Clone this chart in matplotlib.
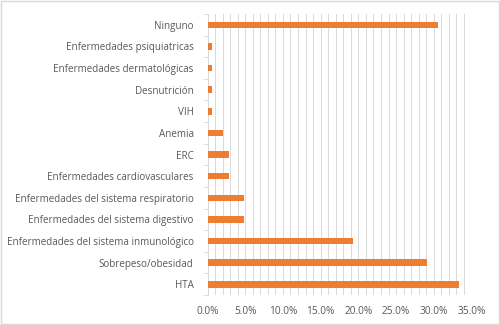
import matplotlib
matplotlib.use("Agg")
import matplotlib.pyplot as plt
from matplotlib.ticker import MultipleLocator, FuncFormatter, FixedLocator
import numpy as np

categories = ["HTA", "Sobrepeso/obesidad", "Enfermedades del sistema inmunológico",
              "Enfermedades del sistema digestivo", "Enfermedades del sistema respiratorio",
              "Enfermedades cardiovasculares", "ERC", "Anemia", "VIH", "Desnutrición",
              "Enfermedades dermatológicas", "Enfermedades psiquiatricas", "Ninguno"]
values = [33.3, 29.1, 19.3, 4.8, 4.9, 2.8, 2.8, 2.1, 0.6, 0.6, 0.6, 0.6, 30.5]

fig = plt.figure(figsize=(5, 3.25), dpi=100)
fig.patch.set_facecolor("white")
ax = fig.add_axes([0.415, 0.092, 0.528, 0.865])
y = np.arange(len(categories))
ax.barh(y, values, height=0.3, color="#ED7D31", zorder=3)
ax.set_xlim(0, 35)
ax.set_ylim(-0.5, len(categories) - 0.5)
ax.xaxis.set_major_locator(MultipleLocator(5))
ax.xaxis.set_minor_locator(MultipleLocator(1))
ax.xaxis.set_major_formatter(FuncFormatter(lambda v, p: f"{v:.1f}%"))
ax.grid(axis="x", which="both", color="#D9D9D9", linewidth=0.7, zorder=0)
ax.set_yticks(y)
ax.set_yticklabels(categories)
ax.yaxis.set_minor_locator(FixedLocator(np.arange(-0.5, len(categories), 1.0)))
ax.tick_params(axis="y", which="major", length=0, pad=10, labelsize=7.1, labelcolor="#595959")
ax.tick_params(axis="y", which="minor", length=3, color="#D9D9D9", width=0.7)
ax.tick_params(axis="x", which="both", length=0, labelsize=7.3, labelcolor="#595959", pad=8)
for s in ["top", "right", "bottom"]:
    ax.spines[s].set_visible(False)
ax.spines["left"].set_color("#D9D9D9")
ax.spines["left"].set_linewidth(0.7)
for lbl in ax.get_xticklabels() + ax.get_yticklabels():
    lbl.set_fontfamily("Open Sans")
border = plt.Rectangle((0.002, 0.003), 0.995, 0.993, transform=fig.transFigure,
                       fill=False, edgecolor="#D9D9D9", linewidth=1)
fig.add_artist(border)
fig.savefig("out.png", dpi=100)
